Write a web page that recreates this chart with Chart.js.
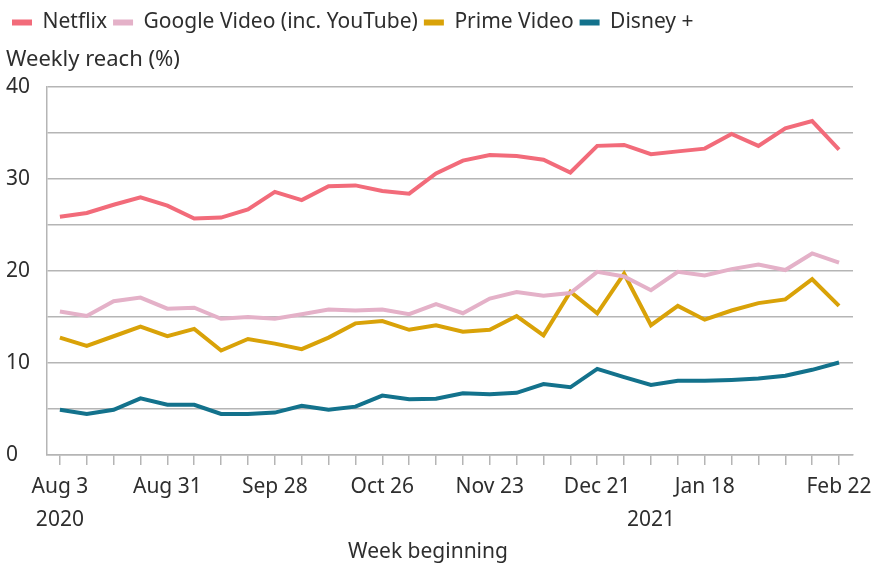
<!DOCTYPE html>
<html>
<head>
<meta charset="utf-8">
<script src="https://cdn.jsdelivr.net/npm/chart.js@4.4.1/dist/chart.umd.min.js"></script>
<style>
  body { margin: 0; background: #fff; }
  #wrap { width: 888px; height: 567px; position: relative; }
</style>
</head>
<body>
<div id="wrap"><canvas id="reachChart"></canvas></div>
<script>
// Weeks (week beginning), Aug 3 2020 - Feb 22 2021
const weeks = ['Aug 3', 'Aug 10', 'Aug 17', 'Aug 24', 'Aug 31', 'Sep 7', 'Sep 14', 'Sep 21',
    'Sep 28', 'Oct 5', 'Oct 12', 'Oct 19', 'Oct 26', 'Nov 2', 'Nov 9', 'Nov 16', 'Nov 23',
    'Nov 30', 'Dec 7', 'Dec 14', 'Dec 21', 'Dec 28', 'Jan 4', 'Jan 11', 'Jan 18', 'Jan 25',
    'Feb 1', 'Feb 8', 'Feb 15', 'Feb 22'];
const labelledWeeks = ['Aug 3', 'Aug 31', 'Sep 28', 'Oct 26', 'Nov 23', 'Dec 21', 'Jan 18', 'Feb 22'];
const yearLabels = { 'Aug 3': '2020', 'Jan 4': '2021' };
const yTicks = [0, 10, 20, 30, 40];

// Weekly reach (%)
const netflix = [25.9, 26.3, 27.2, 28.0, 27.1, 25.7, 25.8, 26.7, 28.6, 27.7, 29.2, 29.3, 28.7, 28.4, 30.6,
    32.0, 32.6, 32.5, 32.1, 30.7, 33.6, 33.7, 32.7, 33.0, 33.3, 34.9, 33.6, 35.5, 36.3, 33.2];
const googleVideo = [15.6, 15.1, 16.7, 17.1, 15.9, 16.0, 14.8, 15.0, 14.8, 15.3, 15.8, 15.7, 15.8, 15.3, 16.4,
    15.4, 17.0, 17.7, 17.3, 17.6, 19.9, 19.4, 17.9, 19.9, 19.5, 20.2, 20.7, 20.1, 21.9, 20.9];
const primeVideo = [12.75, 11.85, 12.9, 13.95, 12.9, 13.7, 11.35, 12.6, 12.1, 11.5, 12.75, 14.3, 14.55, 13.6, 14.1,
    13.4, 13.6, 15.1, 13.0, 17.75, 15.4, 19.7, 14.1, 16.2, 14.7, 15.7, 16.5, 16.9, 19.1, 16.2];
const disney = [4.9, 4.45, 4.9, 6.15, 5.45, 5.45, 4.45, 4.45, 4.6, 5.35, 4.9, 5.25, 6.45, 6.05, 6.1,
    6.7, 6.6, 6.75, 7.7, 7.35, 9.35, 8.45, 7.6, 8.05, 8.05, 8.15, 8.3, 8.6, 9.25, 10.05];

const FONT = '"Source Sans Pro", "Noto Sans", sans-serif';
const TEXT = '#2e2e2e';
const GRID = '#b5b5b5';

function series(label, values, color) {
    return {
        label: label,
        data: values.map((v, i) => ({ x: i, y: v })),
        borderColor: color,
        backgroundColor: color,
        borderWidth: 4,
        pointRadius: 0,
        tension: 0
    };
}

// draws the x axis title slightly left of centre, like the original
const xTitle = {
    id: 'xTitle',
    afterDraw(chart) {
        const ctx = chart.ctx;
        ctx.save();
        ctx.font = '21px ' + FONT;
        ctx.fillStyle = TEXT;
        ctx.textAlign = 'center';
        ctx.textBaseline = 'middle';
        ctx.fillText('Week beginning', 428, 552);
        ctx.restore();
    }
};

const ctx = document.getElementById('reachChart').getContext('2d');
const reachChart = new Chart(ctx, {
    type: 'line',
    data: {
        datasets: [
            series('Netflix', netflix, '#f26b7a'),
            series('Google Video (inc. YouTube)', googleVideo, '#e4b1c8'),
            series('Prime Video', primeVideo, '#d9a208'),
            series('Disney +', disney, '#13728c')
        ]
    },
    plugins: [xTitle],
    options: {
        responsive: true,
        maintainAspectRatio: false,
        animation: false,
        layout: { padding: { left: 6, right: 35, top: 6, bottom: 25 } },
        plugins: {
            legend: {
                position: 'top',
                align: 'start',
                weight: 3000, // keep legend above the title
                labels: {
                    color: TEXT,
                    font: { family: FONT, size: 21 },
                    boxWidth: 20,
                    boxHeight: 6,
                    padding: 6,
                    generateLabels: chart => Chart.defaults.plugins.legend.labels.generateLabels(chart)
                        .map(item => ({ ...item, lineWidth: 0 }))
                }
            },
            title: {
                display: true,
                text: 'Weekly reach (%)',
                align: 'start',
                color: TEXT,
                font: { family: FONT, size: 22, weight: 'normal', lineHeight: 1.0 },
                padding: { top: 6, bottom: 16 }
            },
            tooltip: { enabled: false }
        },
        scales: {
            x: {
                type: 'linear',
                min: -0.48,
                max: 29.52,
                afterBuildTicks: scale => {
                    scale.ticks = weeks.map((w, i) => ({ value: i }));
                },
                grid: { drawOnChartArea: false, drawTicks: true, tickLength: 10, color: GRID, lineWidth: 1.5 },
                border: { display: true, color: GRID, width: 1.5 },
                ticks: {
                    autoSkip: false,
                    maxRotation: 0,
                    padding: 6,
                    color: TEXT,
                    font: { family: FONT, size: 21, lineHeight: 1.55 },
                    callback: value => {
                        const w = weeks[value];
                        const name = labelledWeeks.includes(w) ? w : '';
                        const year = yearLabels[w];
                        return year ? [name, year] : name;
                    }
                }
            },
            y: {
                min: 0,
                max: 40,
                afterFit: scale => { scale.width = 41; },
                grid: { drawTicks: false, color: GRID, lineWidth: 1.5 },
                border: { display: true, color: GRID, width: 1.5 },
                ticks: {
                    stepSize: 5,
                    padding: 10,
                    crossAlign: 'far',
                    color: TEXT,
                    font: { family: FONT, size: 21 },
                    callback: value => yTicks.includes(value) ? value : ''
                }
            }
        }
    }
});
</script>
</body>
</html>
